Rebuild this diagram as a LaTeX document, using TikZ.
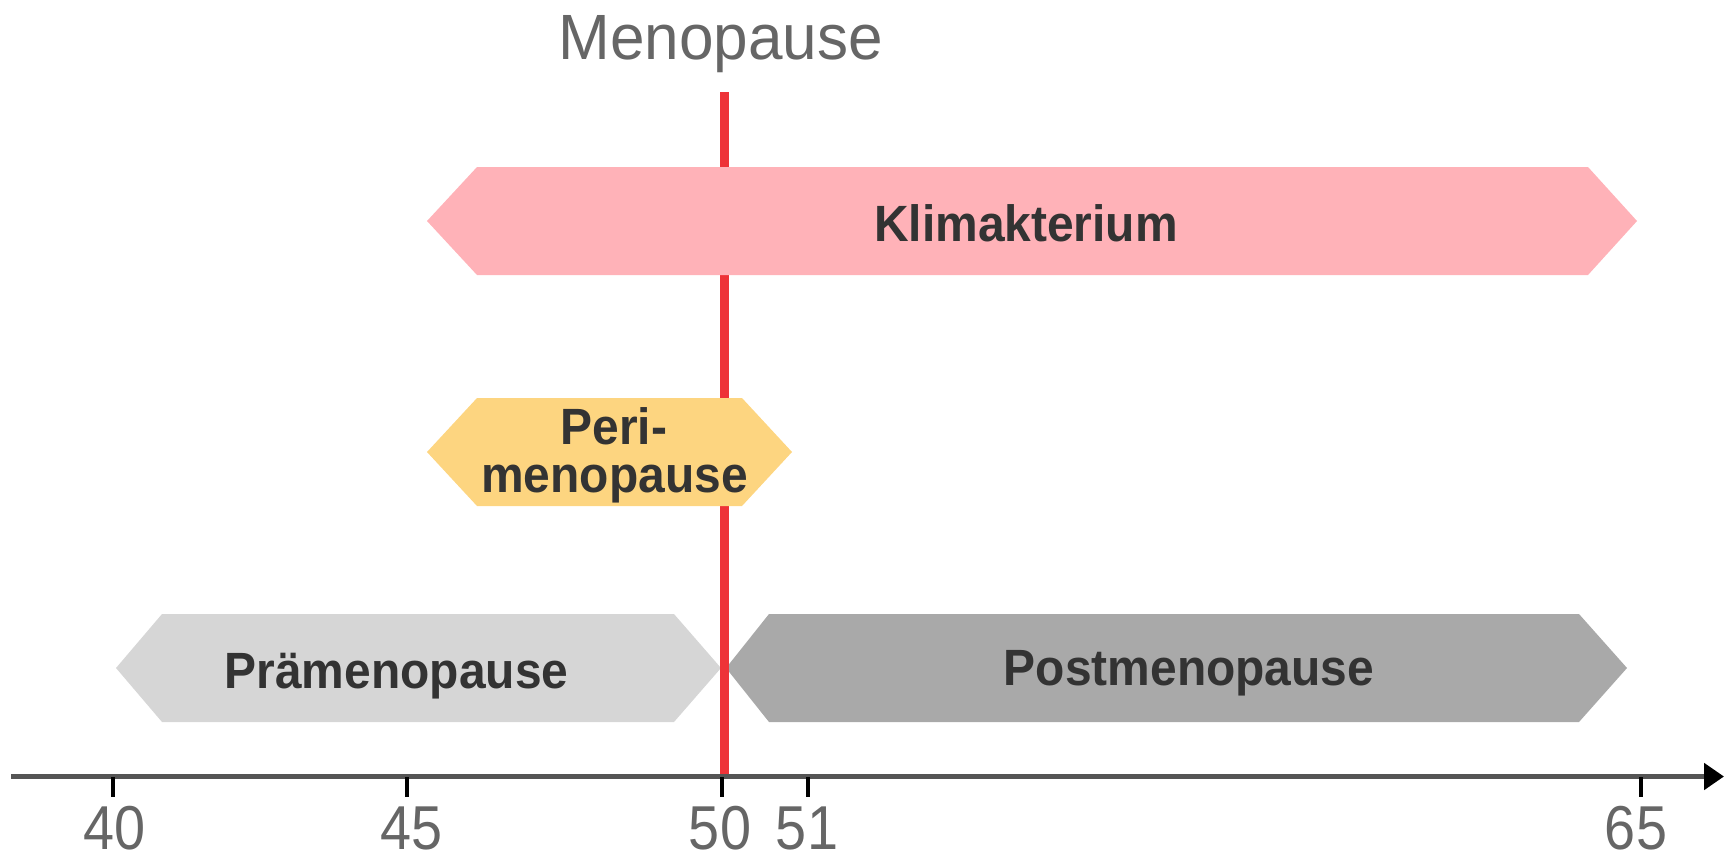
\documentclass[tikz,border=0pt]{standalone}
\usepackage{fontspec}
\setmainfont{Liberation Sans}
\newfontfamily\lblfont[FakeStretch=0.94]{Liberation Sans}
\newfontfamily\tickfont[FakeStretch=0.9]{Liberation Sans}
\newfontfamily\menofont[FakeStretch=0.97]{Liberation Sans}
\usetikzlibrary{arrows.meta}
\definecolor{klimacol}{HTML}{FFB2B8}
\definecolor{pericol}{HTML}{FDD580}
\definecolor{praecol}{HTML}{D6D6D6}
\definecolor{postcol}{HTML}{A9A9A9}
\definecolor{txtdark}{HTML}{333333}
\definecolor{txtgray}{HTML}{666666}
\definecolor{redline}{HTML}{EE3338}
\definecolor{axiscol}{HTML}{555555}
\tikzset{
  lbl/.style={text=txtdark, font=\lblfont\bfseries\fontsize{51}{51}\selectfont, inner sep=0pt, anchor=base},
  ticklbl/.style={text=txtgray, font=\tickfont\fontsize{62}{62}\selectfont, inner sep=0pt, anchor=base},
  tickmark/.style={line width=4pt, draw=black},
  axisline/.style={line width=5pt, draw=axiscol, -{Triangle[length=20pt,width=26pt,color=black]}},
  menoline/.style={line width=9pt, draw=redline},
}
\begin{document}
\begin{tikzpicture}[x=1pt,y=-1pt]
\useasboundingbox (0,0) rectangle (1729,857);
% bottom row
\fill[praecol] (116,668) -- (162,614) -- (674,614) -- (721,668) -- (674,722) -- (162,722) -- cycle;
\fill[postcol] (726,668) -- (769,614) -- (1579,614) -- (1627,668) -- (1579,722) -- (769,722) -- cycle;
\node[lbl] (prae) at (396.5,688) {Prämenopause};
\node[lbl] (post) at (1189,685) {Postmenopause};
% menopause line
\coordinate (mtop) at (724.5,92);
\coordinate (mbot) at (724.5,776);
\draw[menoline] (mtop) -- (mbot);
% upper rows
\fill[klimacol] (427,221) -- (477,167) -- (1588,167) -- (1637,221) -- (1588,275) -- (477,275) -- cycle;
\fill[pericol] (427,452) -- (477,398) -- (742,398) -- (792,452) -- (742,506) -- (477,506) -- cycle;
\node[lbl] (klima) at (1026,241) {Klimakterium};
\node[lbl] (peri1) at (614,444) {Peri-};
\node[lbl] (peri2) at (614.5,492) {menopause};
\node[text=txtgray, font=\menofont\fontsize{64}{64}\selectfont, inner sep=0pt, anchor=base] (meno) at (720.5,59) {Menopause};
% axis
\coordinate (axstart) at (11,776.5);
\coordinate (axend) at (1724,776.5);
\draw[axisline] (axstart) -- (axend);
% ticks
\foreach \x/\name in {113/t40, 407/t45, 722/t50, 808/t51, 1641/t65}{
  \coordinate (\name a) at (\x,777);
  \coordinate (\name b) at (\x,797);
  \draw[tickmark] (\name a) -- (\name b);
}
\node[ticklbl] (l40) at (115,849) {40};
\node[ticklbl] (l45) at (412,849) {45};
\node[ticklbl] (l50) at (720,849) {50};
\node[ticklbl] (l51) at (807,849) {51};
\node[ticklbl] (l65) at (1636,849) {65};
\end{tikzpicture}
\end{document}
